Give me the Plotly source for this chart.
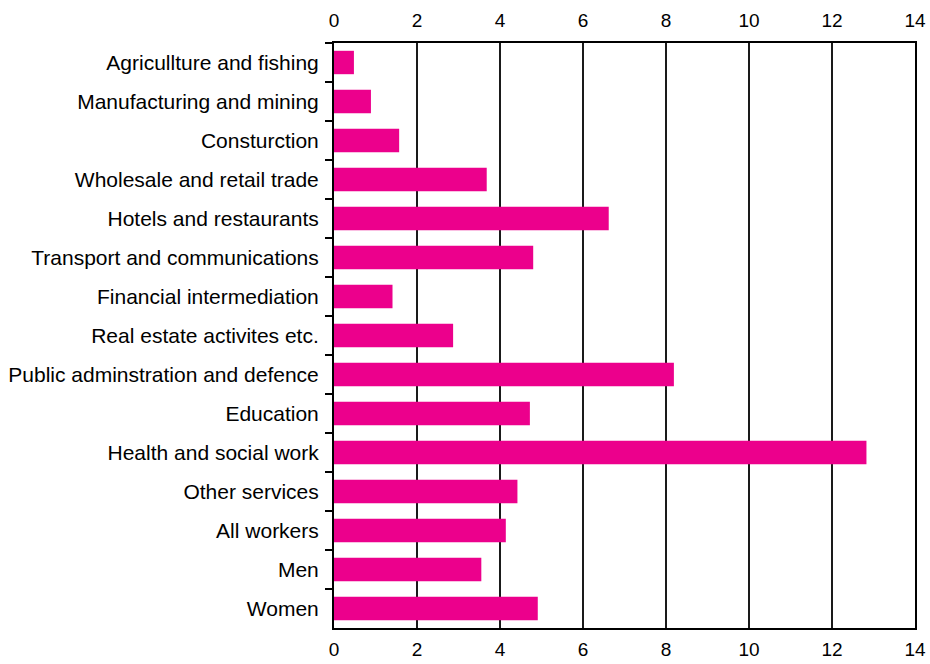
import plotly.graph_objects as go

categories = [
    "Agricullture and fishing",
    "Manufacturing and mining",
    "Consturction",
    "Wholesale and retail trade",
    "Hotels and restaurants",
    "Transport and communications",
    "Financial intermediation",
    "Real estate activites etc.",
    "Public adminstration and defence",
    "Education",
    "Health and social work",
    "Other services",
    "All workers",
    "Men",
    "Women",
]
values = [0.48, 0.89, 1.57, 3.68, 6.62, 4.80, 1.41, 2.87, 8.19, 4.72, 12.83, 4.42, 4.14, 3.55, 4.91]
x_ticks = [0, 2, 4, 6, 8, 10, 12, 14]

ylab_font = dict(family="Liberation Sans, Arial, sans-serif", size=21, color="#000000")
xlab_font = dict(family="Liberation Sans, Arial, sans-serif", size=19, color="#000000")

fig = go.Figure()
fig.add_trace(go.Bar(
    x=values, y=categories, orientation="h",
    marker=dict(color="#EC008C", line=dict(width=0)),
    showlegend=False,
))
# invisible trace so the top axis carries tick labels
fig.add_trace(go.Scatter(x=[0, 14], y=[categories[0], categories[0]], xaxis="x2",
                         mode="markers", marker=dict(opacity=0), showlegend=False,
                         hoverinfo="skip"))

n = len(categories)
fig.update_layout(
    width=930, height=664,
    margin=dict(l=334, r=15, t=43, b=36, autoexpand=False),
    paper_bgcolor="white", plot_bgcolor="white",
    font=ylab_font,
    bargap=0.4,
    xaxis=dict(range=[0, 14], tickvals=x_ticks, showgrid=True, gridcolor="#1a1a1a",
               gridwidth=1.5, showline=True, linecolor="#000000", linewidth=2,
               mirror=True, ticks="outside", ticklen=3, tickcolor="rgba(0,0,0,0)",
               zeroline=False, tickfont=xlab_font, automargin=False),
    xaxis2=dict(range=[0, 14], tickvals=x_ticks, overlaying="x", side="top",
                showgrid=False, showline=False, ticks="outside", ticklen=7,
                tickcolor="rgba(0,0,0,0)", zeroline=False, tickfont=xlab_font,
                automargin=False),
    yaxis=dict(range=[n - 0.5, -0.5], autorange=False, showline=True,
               linecolor="#000000", linewidth=2,
               mirror=True, ticks="outside", tickson="boundaries", ticklen=7,
               tickwidth=2, tickcolor="#000000", showgrid=False, tickfont=ylab_font,
               ticklabelstandoff=9, automargin=False),
)

fig.write_html(
    "out.html",
    config={"displayModeBar": False},
    post_script="document.body.style.margin='0';document.body.style.overflow='hidden';",
)
